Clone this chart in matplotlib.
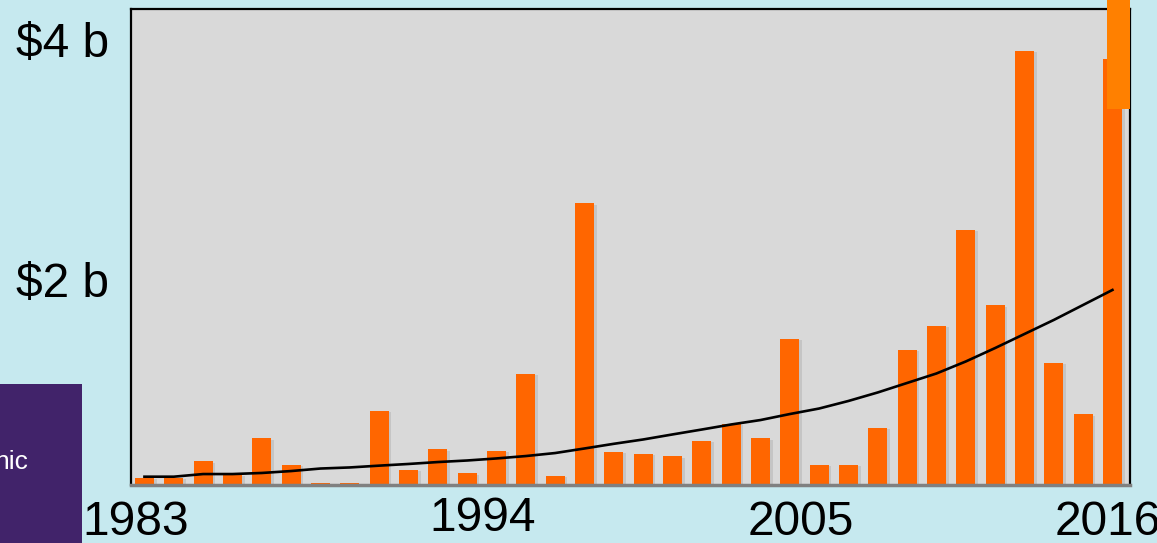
import matplotlib.pyplot as plt
import matplotlib.patheffects as pe
from matplotlib.patches import Rectangle

# yearly amounts in $ billions
years = list(range(1983, 2017))
amounts = [0.35, 0.35, 0.49, 0.375, 0.68, 0.46, 0.31, 0.31, 0.91, 0.42,
           0.59, 0.39, 0.575, 1.22, 0.37, 2.64, 0.57, 0.55, 0.53, 0.66,
           0.80, 0.68, 1.51, 0.46, 0.46, 0.77, 1.42, 1.62, 2.42, 1.79,
           3.91, 1.31, 0.88, 3.84]
trend = [0.361, 0.361, 0.383, 0.383, 0.392, 0.408, 0.429, 0.438, 0.453, 0.467,
         0.483, 0.496, 0.513, 0.533, 0.558, 0.596, 0.635, 0.671, 0.713, 0.754,
         0.796, 0.833, 0.883, 0.929, 0.992, 1.063, 1.142, 1.221, 1.321, 1.433,
         1.55, 1.667, 1.792, 1.917]
x_labels = ['1983', '1994', '2005', '2016']
y_ticks = [2, 4]
y_labels = ['$2 b', '$4 b']

plt.rcParams['font.family'] = ['Liberation Sans', 'DejaVu Sans']

fig = plt.figure(figsize=(11.57, 5.43), dpi=100)
fig.patch.set_facecolor('#c6e9ef')

ax = fig.add_axes([0.1132, 0.1068, 0.8635, 0.8766])
ax.set_facecolor('#d9d9d9')

bars = ax.bar(years, amounts, width=0.65, color='#ff6600', zorder=2)
for b in bars:
    b.set_path_effects([pe.SimplePatchShadow(offset=(2, -1), shadow_rgbFace='#999999', alpha=0.3),
                        pe.Normal()])
ax.plot(years, trend, color='black', linewidth=1.9, zorder=3)

ax.set_xlim(1982.54, 2016.6)
ax.set_ylim(0.2917, 4.258)

# label positions as they sit in the original slide
ax.set_xticks([1982.71, 1994.54, 2005.38, 2015.85])
ax.set_xticklabels(x_labels, fontsize=34.5)
ax.get_xticklabels()[1].set_y(0.01)
ax.set_yticks(y_ticks)
ax.set_yticklabels(y_labels, fontsize=34.5)
ax.tick_params(axis='both', length=0)
ax.tick_params(axis='x', pad=11)
ax.tick_params(axis='y', pad=16)

for side in ['left', 'top', 'right']:
    ax.spines[side].set_color('black')
    ax.spines[side].set_linewidth(1.6)
ax.spines['bottom'].set_color('#808080')
ax.spines['bottom'].set_linewidth(2.5)

# slide decorations: orange block top right, purple panel bottom left
fig.patches.append(Rectangle((1106.5 / 1157, 1 - 109 / 543), 23 / 1157, 109 / 543,
                             transform=fig.transFigure, facecolor='#ff8000',
                             edgecolor='none', zorder=5))
fig.patches.append(Rectangle((0, 0), 82 / 1157, 1 - 384 / 543,
                             transform=fig.transFigure, facecolor='#41236a',
                             edgecolor='none', zorder=5))
fig.text(-6 / 1157, 1 - 462 / 543, 'nic', color='white', fontsize=19,
         va='center', ha='left', zorder=6)

fig.savefig('out.png', dpi=100, facecolor=fig.get_facecolor())
